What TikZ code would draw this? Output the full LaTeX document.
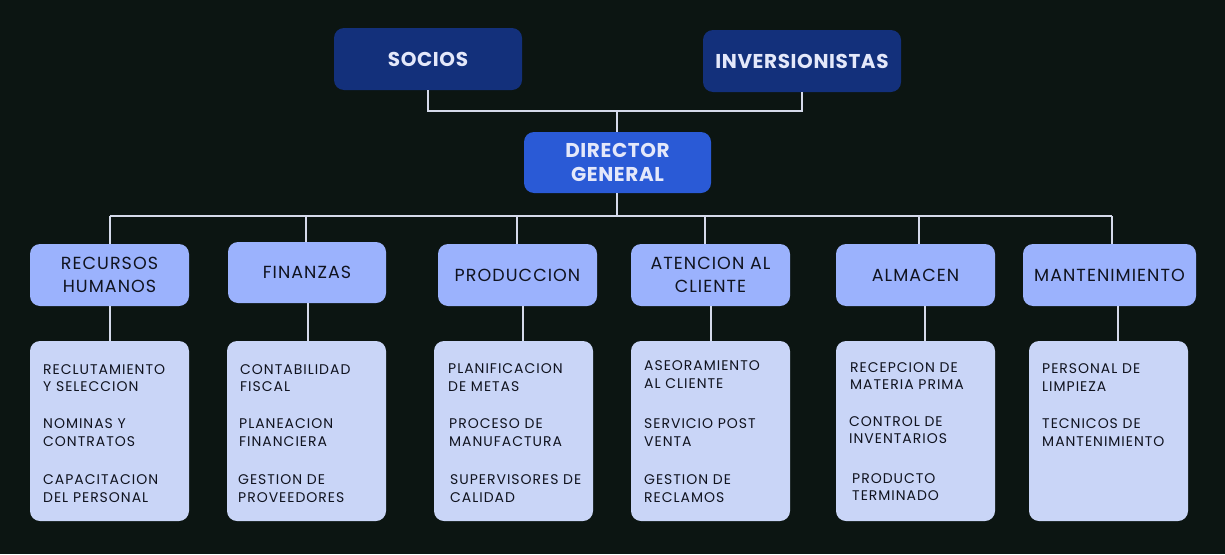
\documentclass[tikz,border=0pt]{standalone}
\usepackage{fontspec}
\setmainfont{Poppins}
\newfontfamily\topfont[LetterSpace=3]{Poppins}
\newfontfamily\deptfont[LetterSpace=6]{Poppins}
\newfontfamily\subfont[LetterSpace=7]{Poppins}
\usetikzlibrary{calc}
\definecolor{bgc}{HTML}{0C1512}
\definecolor{navy}{HTML}{13307B}
\definecolor{dirc}{HTML}{2A5AD6}
\definecolor{deptc}{HTML}{9BB2FD}
\definecolor{subc}{HTML}{C9D5F7}
\definecolor{linec}{HTML}{D5DAEA}
\definecolor{toptext}{HTML}{E4E8FA}
\definecolor{dtext}{HTML}{10131F}
\tikzset{
  topbox/.style={rectangle, rounded corners=10pt, fill=navy, text=toptext, align=center,
    font=\topfont\bfseries\fontsize{20}{24}\selectfont, inner sep=0pt},
  dirbox/.style={topbox, fill=dirc},
  deptbox/.style={rectangle, rounded corners=10pt, fill=deptc, text=dtext, align=center,
    font=\deptfont\fontsize{17.5}{23}\selectfont, inner sep=0pt, minimum width=159pt, minimum height=62pt},
  subbox/.style={rectangle, rounded corners=10pt, fill=subc, minimum width=159pt, minimum height=180pt, inner sep=0pt},
  subtxt/.style={anchor=west, align=left, text=dtext, inner sep=0pt,
    font=\subfont\fontsize{14}{17.5}\selectfont},
  conn/.style={draw=linec, line width=2.5pt}
}
\begin{document}
\begin{tikzpicture}[x=1pt,y=-1pt]
\fill[bgc] (0,0) rectangle (1225,554);
\useasboundingbox (0,0) rectangle (1225,554);
% top
\node[topbox, minimum width=188pt, minimum height=62pt] (soc) at (428,59) {SOCIOS};
\node[topbox, minimum width=198pt, minimum height=62pt] (inv) at (802,61) {INVERSIONISTAS};
\node[dirbox, minimum width=187pt, minimum height=61pt] (dir) at (617.5,162.5) {DIRECTOR\\GENERAL};
% departments
\node[deptbox] (rh) at (109.5,275) {RECURSOS\\HUMANOS};
\node[deptbox, minimum width=158pt, minimum height=61pt] (fi) at (307,272.5) {FINANZAS};
\node[deptbox] (pr) at (517.5,275) {PRODUCCION};
\node[deptbox] (at) at (710.5,275) {ATENCION AL\\CLIENTE};
\node[deptbox] (al) at (915.5,275) {ALMACEN};
\node[deptbox, minimum width=173pt] (mt) at (1109.5,275) {MANTENIMIENTO};
% sub boxes
\node[subbox] (rhs) at (109.5,431) {};
\node[subbox] (fis) at (306.5,431) {};
\node[subbox] (prs) at (513.5,431) {};
\node[subbox] (ats) at (710.5,431) {};
\node[subbox] (als) at (915.5,431) {};
\node[subbox] (mts) at (1108.5,431) {};
% sub texts
\node[subtxt] (rh1) at (43,378) {RECLUTAMIENTO\\Y SELECCION};
\node[subtxt] (rh2) at (43,432.5) {NOMINAS Y\\CONTRATOS};
\node[subtxt] (rh3) at (43,488.5) {CAPACITACION\\DEL PERSONAL};
\node[subtxt] (fi1) at (240,378) {CONTABILIDAD\\FISCAL};
\node[subtxt] (fi2) at (239,432.5) {PLANEACION\\FINANCIERA};
\node[subtxt] (fi3) at (238,488.5) {GESTION DE\\PROVEEDORES};
\node[subtxt] (pr1) at (448,377.5) {PLANIFICACION\\DE METAS};
\node[subtxt] (pr2) at (449,432.5) {PROCESO DE\\MANUFACTURA};
\node[subtxt] (pr3) at (450,488.5) {SUPERVISORES DE\\CALIDAD};
\node[subtxt] (at1) at (644,374.5) {ASEORAMIENTO\\AL CLIENTE};
\node[subtxt] (at2) at (644,432.5) {SERVICIO POST\\VENTA};
\node[subtxt] (at3) at (644,488.5) {GESTION DE\\RECLAMOS};
\node[subtxt] (al1) at (850,376) {RECEPCION DE\\MATERIA PRIMA};
\node[subtxt] (al2) at (849,430) {CONTROL DE\\INVENTARIOS};
\node[subtxt] (al3) at (852,487) {PRODUCTO\\TERMINADO};
\node[subtxt] (mt1) at (1042,377.5) {PERSONAL DE\\LIMPIEZA};
\node[subtxt] (mt2) at (1042,432.5) {TECNICOS DE\\MANTENIMIENTO};
% connector coordinates
\coordinate (jtop) at (617,111);
\coordinate (bus) at (617,216);
\coordinate (t1) at (110,0);
\coordinate (t2) at (306,0);
\coordinate (t3) at (517,0);
\coordinate (t4) at (705,0);
\coordinate (t5) at (919,0);
\coordinate (t6) at (1112,0);
\coordinate (b1) at (110,0);
\coordinate (b2) at (308,0);
\coordinate (b3) at (523,0);
\coordinate (b4) at (711,0);
\coordinate (b5) at (925,0);
\coordinate (b6) at (1118,0);
% connectors
\draw[conn] (soc.south) |- (jtop) -| (inv.south);
\draw[conn] (jtop) -- (dir.north -| jtop);
\draw[conn] (dir.south -| bus) -- (bus);
\draw[conn] (t1 |- bus) -- (t6 |- bus);
\draw[conn] (t1 |- bus) -- (rh.north -| t1);
\draw[conn] (t2 |- bus) -- (fi.north -| t2);
\draw[conn] (t3 |- bus) -- (pr.north -| t3);
\draw[conn] (t4 |- bus) -- (at.north -| t4);
\draw[conn] (t5 |- bus) -- (al.north -| t5);
\draw[conn] (t6 |- bus) -- (mt.north -| t6);
\draw[conn] (rh.south -| b1) -- (rhs.north -| b1);
\draw[conn] (fi.south -| b2) -- (fis.north -| b2);
\draw[conn] (pr.south -| b3) -- (prs.north -| b3);
\draw[conn] (at.south -| b4) -- (ats.north -| b4);
\draw[conn] (al.south -| b5) -- (als.north -| b5);
\draw[conn] (mt.south -| b6) -- (mts.north -| b6);
\end{tikzpicture}
\end{document}
